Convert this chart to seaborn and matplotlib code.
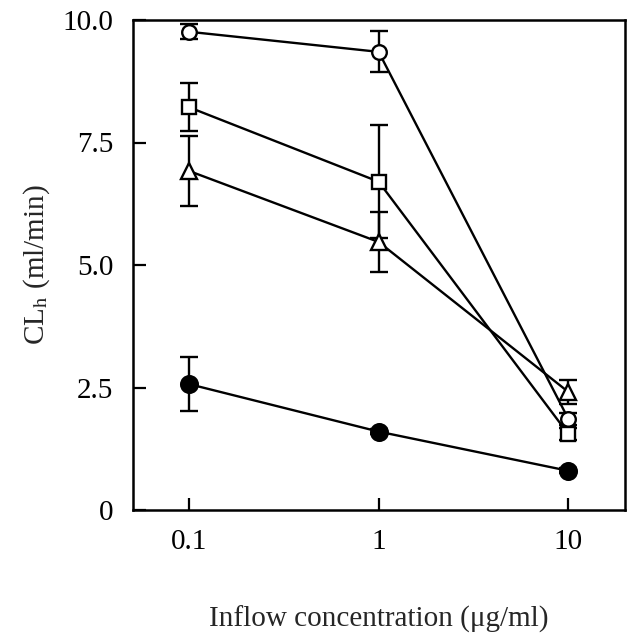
import numpy as np
import pandas as pd
import matplotlib
matplotlib.use("Agg")
import matplotlib.pyplot as plt
import seaborn as sns

# ---- data ----
conc = [0.1, 1, 10]
series_names = ["open_circle", "open_square", "open_triangle", "filled_circle"]
open_circle = [9.76, 9.35, 1.86]
open_circle_err = [0.15, 0.42, 0.12]
open_square = [8.22, 6.70, 1.55]
open_square_err = [0.49, 1.15, 0.12]
open_triangle = [6.92, 5.47, 2.41]
open_triangle_err = [0.72, 0.61, 0.25]
filled_circle = [2.57, 1.60, 0.80]
filled_circle_err = [0.55, 0.05, 0.05]

x_ticks = [0.1, 1, 10]
x_tick_labels = ["0.1", "1", "10"]
y_ticks = [0, 2.5, 5.0, 7.5, 10.0]
y_tick_labels = ["0", "2.5", "5.0", "7.5", "10.0"]

sns.set_style("ticks")
plt.rcParams["font.family"] = ["Liberation Serif", "DejaVu Serif"]
plt.rcParams["mathtext.fontset"] = "stix"

fig = plt.figure(figsize=(6.31, 6.39), dpi=100)
ax = fig.add_axes([133 / 631, 1 - 510 / 639, 492 / 631, 490 / 639])

styles = {
    "open_circle": dict(marker="o", mfc="white", ms=10.5),
    "open_square": dict(marker="s", mfc="white", ms=10),
    "open_triangle": dict(marker="^", mfc="white", ms=11),
    "filled_circle": dict(marker="o", mfc="black", ms=12),
}
vals = {
    "open_circle": (open_circle, open_circle_err),
    "open_square": (open_square, open_square_err),
    "open_triangle": (open_triangle, open_triangle_err),
    "filled_circle": (filled_circle, filled_circle_err),
}

for i, name in enumerate(series_names):
    y, e = vals[name]
    df = pd.DataFrame({"conc": conc, "cl": y})
    st = styles[name]
    ax.errorbar(conc, y, yerr=e, fmt="none", ecolor="black", elinewidth=1.7,
                capsize=6.5, capthick=1.7, zorder=2)
    sns.lineplot(data=df, x="conc", y="cl", ax=ax, color="black", linewidth=1.7,
                 marker=st["marker"], markersize=st["ms"],
                 markerfacecolor=st["mfc"], markeredgecolor="black",
                 markeredgewidth=1.7, zorder=3 + i)

ax.set_xscale("log")
ax.set_xlim(0.0507, 19.9)
ax.set_ylim(0, 10)
ax.set_xticks(x_ticks)
ax.set_xticklabels(x_tick_labels)
ax.minorticks_off()
ax.set_yticks(y_ticks)
ax.set_yticklabels(y_tick_labels)
ax.tick_params(direction="in", length=9, width=1.6, labelsize=21, pad=14,
               colors="black")
for s in ax.spines.values():
    s.set_linewidth(1.8)
    s.set_color("black")

ax.set_xlabel("Inflow concentration (μg/ml)", fontsize=21, labelpad=36)
ax.set_ylabel(r"CL$_{\mathrm{h}}$ (ml/min)", fontsize=21, labelpad=8)

fig.savefig("out.png", dpi=100, facecolor="white")
